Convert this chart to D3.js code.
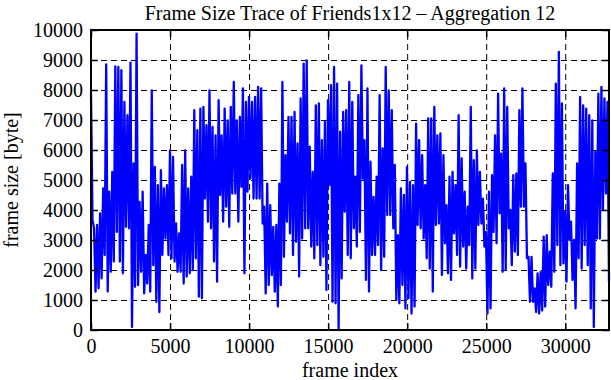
<!DOCTYPE html>
<html lang="en">
<head>
<meta charset="UTF-8">
<title>Frame Size Trace of Friends1x12 - Aggregation 12</title>
<script src="https://d3js.org/d3.v7.min.js"></script>
<style>
  body { margin: 0; background: #fff; }
  svg { display: block; font-family: "Liberation Serif", "Times New Roman", serif; }
  .grid line { stroke: #000; stroke-width: 1; stroke-dasharray: 6, 4; }
  .grid .domain { display: none; }
  .axis .domain { display: none; }
  .axis line { stroke: #000; stroke-width: 1.5; }
  .axis text { font-size: 20px; fill: #000; font-family: "Liberation Serif", "Times New Roman", serif; }
  .trace { fill: none; stroke: #0000ff; stroke-width: 2.3; stroke-linejoin: round; }
  .label { font-size: 20px; fill: #000; }
</style>
</head>
<body>
<svg width="611" height="380"></svg>
<script>
// frame sizes (alternating peak / dip of each small window)
const frameSizes = [
  7880,3660, 3390,1280, 3500,1390, 3890,1720, 4720,2500, 8850,1280, 4610,1940, 5270,2280,
  8790,3270, 8770,2280, 8660,1890, 7600,3440, 7160,3390, 8910,100, 5550,1440, 9880,1500,
  4270,1940, 4610,1220, 2500,1550, 3500,1280, 7990,2160, 5440,940, 4830,600, 5330,2500,
  4720,3050, 4830,2500, 5990,2390, 5770,2280, 3550,1940, 3220,1940, 5500,1550, 5990,1780,
  4720,1890, 5110,2000, 7330,2390, 6660,1110, 7380,1060, 7440,4380, 6830,3610, 7990,3390,
  6770,2280, 6490,1610, 7660,4500, 6490,3610, 7380,4110, 6990,3440, 7440,4550, 8270,4550,
  6990,3610, 7100,4770, 8050,1890, 7600,4610, 7770,5050, 7600,4380, 7770,4380, 8100,4380,
  8050,3550, 4110,1220, 4880,1500, 4160,1830, 3440,1280, 3500,780, 4880,1500, 8270,2440,
  5830,3610, 7100,3220, 7100,2500, 7270,2940, 6220,1780, 7720,3050, 8880,3390, 8990,3390,
  6110,2780, 5270,2390, 7490,2830, 7550,2160, 6330,2440, 6940,1330, 7660,4830, 8160,940,
  8770,890, 8210,0, 6610,1720, 7270,3940, 7330,2500, 8270,2390, 7600,3390, 5110,2780,
  7830,3270, 8820,5050, 6330,1670, 8050,1280, 5610,2500, 4440,2500, 5110,2830, 7830,2000,
  6050,2440, 8770,3830, 7990,3830, 7330,3390, 5500,1000, 3160,890, 4720,1500, 4500,720,
  5440,1060, 4940,550, 4830,780, 6880,3500, 6330,3390, 5830,3050, 4830,2390, 7050,2050,
  7050,1280, 7440,3500, 6490,3550, 6550,1830, 5830,2890, 4160,1890, 5110,1670, 5270,3220,
  4830,2500, 7160,2110, 5720,2780, 4610,2050, 4110,2830, 7440,1720, 5660,2050, 5990,3500,
  5270,3550, 4380,2780, 3270,550, 4610,720, 5160,3270, 6490,2890, 7880,3890, 5880,1940,
  8050,2000, 7440,3390, 4000,2160, 5160,2610, 5220,2500, 7330,4110, 8050,4110, 5550,2390,
  2440,940, 2440,940, 1390,600, 1890,550, 1940,650, 3110,780, 3160,1500, 2610,1440,
  5220,1940, 8210,2830, 9270,2160, 7550,2220, 3940,1610, 4830,3000, 3610,1670, 3000,720,
  5550,2390, 7770,2050, 7490,2830, 7380,2160, 7160,720, 6990,100, 5940,3050, 7880,3050,
  8100,4000, 7720,4550, 7600,1610
];
const frameCount = 32768;
const xTicks = [0, 5000, 10000, 15000, 20000, 25000, 30000];
const yTicks = [0, 1000, 2000, 3000, 4000, 5000, 6000, 7000, 8000, 9000, 10000];

const svg = d3.select("svg"),
  margin = { top: 30, right: 2, bottom: 50, left: 91 },
  width = +svg.attr("width") - margin.left - margin.right,
  height = +svg.attr("height") - margin.top - margin.bottom;

const g = svg.append("g").attr("transform", `translate(${margin.left},${margin.top})`);

const x = d3.scaleLinear().domain([0, frameCount]).range([0, width]);
const y = d3.scaleLinear().domain([0, 10000]).range([height, 0]);

const step = frameCount / (frameSizes.length - 1);
const fmt = d3.format("d");

// dashed grid
g.append("g").attr("class", "grid")
  .call(d3.axisLeft(y).tickValues(yTicks.slice(1, -1)).tickSize(-width).tickFormat(""));
g.append("g").attr("class", "grid")
  .attr("transform", `translate(0,${height})`)
  .call(d3.axisBottom(x).tickValues(xTicks.slice(1)).tickSize(-height).tickFormat(""));

// the trace
const line = d3.line()
  .x((d, i) => x(i * step))
  .y(d => y(d));
g.append("path").datum(frameSizes).attr("class", "trace").attr("d", line);

// axes with inward ticks on all four sides
g.append("g").attr("class", "axis")
  .call(d3.axisLeft(y).tickValues(yTicks).tickSize(-7).tickPadding(8).tickFormat(fmt));
g.append("g").attr("class", "axis")
  .attr("transform", `translate(${width},0)`)
  .call(d3.axisRight(y).tickValues(yTicks).tickSize(-7).tickFormat(""));
g.append("g").attr("class", "axis")
  .attr("transform", `translate(0,${height})`)
  .call(d3.axisBottom(x).tickValues(xTicks).tickSize(-7).tickPadding(9).tickFormat(fmt));
g.append("g").attr("class", "axis")
  .call(d3.axisTop(x).tickValues(xTicks).tickSize(-7).tickFormat(""));

// border
g.append("rect")
  .attr("width", width).attr("height", height)
  .attr("fill", "none").attr("stroke", "#000").attr("stroke-width", 2);

// labels
svg.append("text").attr("class", "label")
  .attr("x", margin.left + width / 2).attr("y", 20)
  .attr("text-anchor", "middle")
  .text("Frame Size Trace of Friends1x12 \u2013 Aggregation 12");
svg.append("text").attr("class", "label")
  .attr("x", margin.left + width / 2).attr("y", 377)
  .attr("text-anchor", "middle")
  .text("frame index");
svg.append("text").attr("class", "label")
  .attr("transform", `translate(18,${margin.top + height / 2}) rotate(-90)`)
  .attr("text-anchor", "middle")
  .text("frame size [byte]");
</script>
</body>
</html>
